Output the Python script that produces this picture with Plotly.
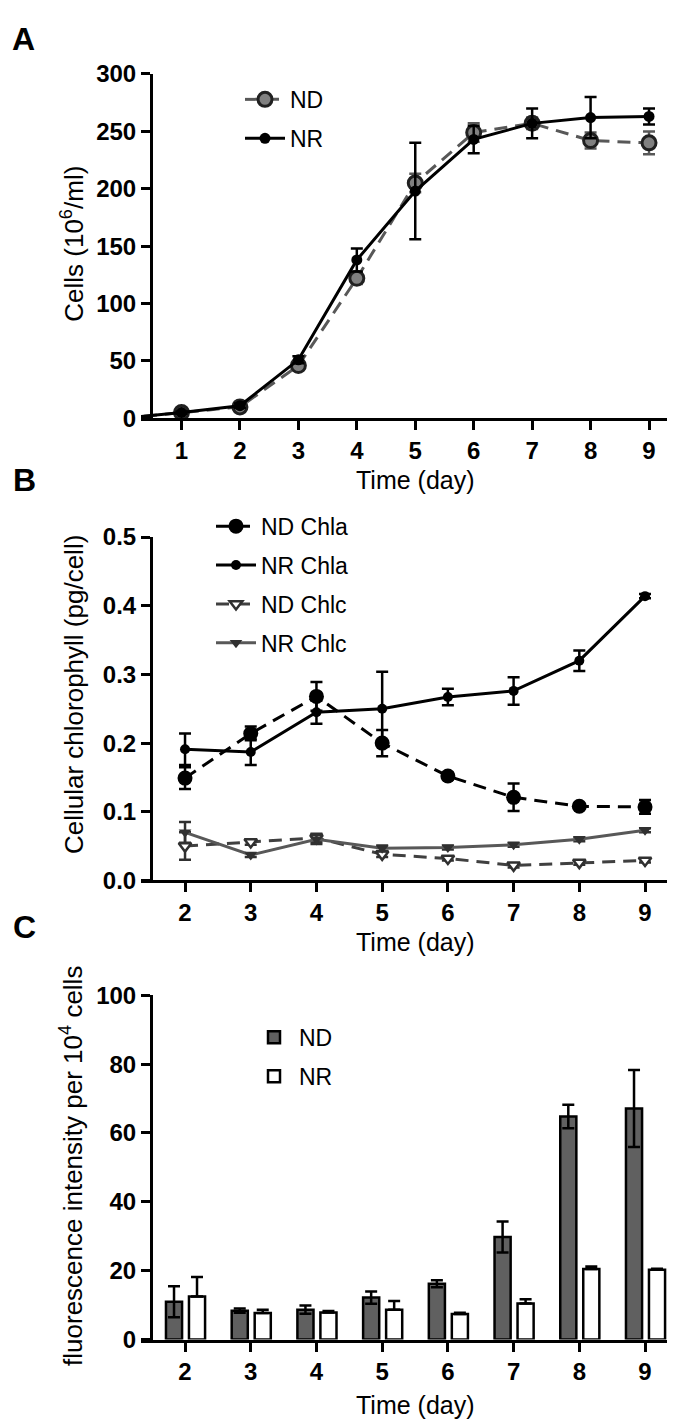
import plotly.graph_objects as go

# panel A: cell growth
days_a = [0, 1, 2, 3, 4, 5, 6, 7, 8, 9]
cells_nd = [0, 5, 10, 46, 122, 205, 249, 257, 242, 240]
cells_nd_err = [0, 1, 2, 3, 5, 8, 8, 5, 7, 10]
cells_nr = [0, 5, 11, 51, 138, 198, 243, 257, 262, 263]
cells_nr_err = [0, 1, 2, 3, 10, 42, 12, 13, 18, 7]

# panel B: cellular chlorophyll
days_b = [2, 3, 4, 5, 6, 7, 8, 9]
chla_nd = [0.149, 0.214, 0.268, 0.200, 0.152, 0.121, 0.108, 0.107]
chla_nd_err = [0.016, 0.010, 0.021, 0.019, 0.005, 0.020, 0.004, 0.010]
chla_nr = [0.191, 0.187, 0.245, 0.250, 0.267, 0.276, 0.320, 0.414]
chla_nr_err = [0.023, 0.019, 0.017, 0.054, 0.012, 0.020, 0.015, 0.003]
chlc_nd = [0.050, 0.056, 0.062, 0.038, 0.032, 0.022, 0.026, 0.029]
chlc_nd_err = [0.020, 0.004, 0.006, 0.004, 0.003, 0.003, 0.003, 0.003]
chlc_nr = [0.070, 0.037, 0.060, 0.047, 0.048, 0.052, 0.060, 0.073]
chlc_nr_err = [0.015, 0.003, 0.007, 0.004, 0.003, 0.003, 0.003, 0.003]

# panel C: fluorescence
days_c = [2, 3, 4, 5, 6, 7, 8, 9]
fluor_nd = [11.0, 8.4, 8.7, 12.2, 16.2, 29.8, 64.8, 67.1]
fluor_nd_err = [4.5, 0.6, 1.2, 1.8, 1.0, 4.5, 3.4, 11.2]
fluor_nr = [12.5, 7.7, 7.9, 8.7, 7.4, 10.5, 20.5, 20.3]
fluor_nr_err = [5.7, 1.0, 0.4, 2.5, 0.4, 1.2, 0.7, 0.3]

FONT = 'Arial, Liberation Sans, sans-serif'
GREY = '#585858'
DASH = '13px,8px'
W = 675.0
H = 1427.0

fig = go.Figure()

def err(vals, color, minus=None):
    e = dict(type='data', array=vals, color=color, thickness=2.5, width=6, visible=True)
    if minus is not None:
        e['arrayminus'] = minus
        e['symmetric'] = False
    return e

# A
fig.add_trace(go.Scatter(x=days_a, y=cells_nd, name='ND', mode='lines+markers',
                         line=dict(color=GREY, width=3, dash=DASH),
                         marker=dict(symbol='circle', size=14, color='#808080', line=dict(color='#202020', width=3)),
                         error_y=err(cells_nd_err, GREY), xaxis='x', yaxis='y',
                         legend='legend', legendgroup='a1'))
fig.add_trace(go.Scatter(x=days_a, y=cells_nr, name='NR', mode='lines+markers',
                         line=dict(color='black', width=3),
                         marker=dict(symbol='circle', size=11, color='black'),
                         error_y=err(cells_nr_err, 'black'), xaxis='x', yaxis='y',
                         legend='legend', legendgroup='a2'))

# B
fig.add_trace(go.Scatter(x=days_b, y=chla_nd, name='ND Chla', mode='lines+markers',
                         line=dict(color='black', width=3, dash=DASH),
                         marker=dict(symbol='circle', size=15, color='black'),
                         error_y=err(chla_nd_err, 'black'), xaxis='x2', yaxis='y2',
                         legend='legend2', legendgroup='b1'))
fig.add_trace(go.Scatter(x=days_b, y=chla_nr, name='NR Chla', mode='lines+markers',
                         line=dict(color='black', width=3),
                         marker=dict(symbol='circle', size=10, color='black'),
                         error_y=err(chla_nr_err, 'black'), xaxis='x2', yaxis='y2',
                         legend='legend2', legendgroup='b2'))
fig.add_trace(go.Scatter(x=days_b, y=chlc_nd, name='ND Chlc', mode='lines+markers',
                         line=dict(color='#404040', width=3, dash=DASH),
                         marker=dict(symbol='triangle-down', size=11, color='white', line=dict(color='#303030', width=2.5)),
                         error_y=err(chlc_nd_err, '#303030'), xaxis='x2', yaxis='y2',
                         legend='legend2', legendgroup='b3'))
fig.add_trace(go.Scatter(x=days_b, y=chlc_nr, name='NR Chlc', mode='lines+markers',
                         line=dict(color=GREY, width=3),
                         marker=dict(symbol='triangle-down', size=11, color='#303030'),
                         error_y=err(chlc_nr_err, '#303030'), xaxis='x2', yaxis='y2',
                         legend='legend2', legendgroup='b4'))

# C
fig.add_trace(go.Bar(x=days_c, y=fluor_nd, name='ND', width=0.245, offset=-0.29,
                     marker=dict(color='#606060', line=dict(color='black', width=2.5)),
                     error_y=err(fluor_nd_err, 'black'), xaxis='x3', yaxis='y3',
                     legend='legend3', legendgroup='c1'))
fig.add_trace(go.Bar(x=days_c, y=fluor_nr, name='NR', width=0.245, offset=0.06,
                     marker=dict(color='white', line=dict(color='black', width=2.5)),
                     error_y=err(fluor_nr_err, 'black', [0] * len(fluor_nr_err)),
                     xaxis='x3', yaxis='y3', legend='legend3', legendgroup='c2'))


def ax(rng, dom, dtick, fmt=None, anchor=None, position=None):
    d = dict(range=rng, domain=dom, dtick=dtick, tick0=0, showline=True, linecolor='black',
             linewidth=3, ticks='outside', ticklen=9, tickwidth=3, tickcolor='black',
             showgrid=False, zeroline=False, anchor=anchor,
             tickfont=dict(family=FONT, size=24, color='black', weight='bold'))
    if fmt:
        d['tickformat'] = fmt
    if position is not None:
        d['position'] = position
    return d

# x axis line starts a little left of the y axis, like the original
xdom = [133 / W, 671 / W]
ypos = 143 / W
leg = dict(xanchor='left', yanchor='top', itemwidth=40, font=dict(size=23, family=FONT),
           tracegroupgap=6, bgcolor='rgba(0,0,0,0)')

fig.update_layout(
    width=675, height=1427,
    margin=dict(l=0, r=0, t=0, b=0),
    paper_bgcolor='white', plot_bgcolor='white',
    showlegend=True,
    barmode='overlay',
    font=dict(family=FONT, color='black'),
    xaxis=ax([0.307, 9.513], xdom, 1, anchor='y'),
    yaxis=ax([0, 300], [1 - 404 / H, 1 - 53 / H], 50, anchor='free', position=ypos),
    xaxis2=ax([1.33, 9.517], xdom, 1, anchor='y2'),
    yaxis2=ax([0, 0.5], [1 - 875 / H, 1 - 525 / H], 0.1, '.1f', anchor='free', position=ypos),
    xaxis3=ax([1.33, 9.517], xdom, 1, anchor='y3'),
    yaxis3=ax([0, 100], [1 - 1343 / H, 1 - 992 / H], 20, anchor='free', position=ypos),
    legend=dict(leg, x=232 / W, y=1 - 57 / H),
    legend2=dict(leg, x=203 / W, y=1 - 492 / H),
    legend3=dict(leg, x=241 / W, y=1 - 1013 / H),
)

def label(text, x, y, size=25, bold=False, angle=0):
    fig.add_annotation(text=text, x=x / W, y=1 - y / H, xref='paper', yref='paper',
                       xanchor='center', yanchor='middle', showarrow=False, textangle=angle,
                       font=dict(family=FONT, size=size, color='black', weight='bold' if bold else 'normal'))

label('A', 15, 17, 32, True)
label('B', 16, 467, 32, True)
label('C', 16, 922, 32, True)
label('Time (day)', 407, 467)
label('Time (day)', 407, 938)
label('Time (day)', 407, 1410)
label('Cells (10<sup>6</sup>/ml)', 65, 226, 26, angle=-90)
label('Cellular chlorophyll (pg/cell)', 66, 686, 26, angle=-90)
label('fluorescence intensity per 10<sup>4</sup> cells', 64, 1166, 26, angle=-90)

fig.write_html("out.html")
